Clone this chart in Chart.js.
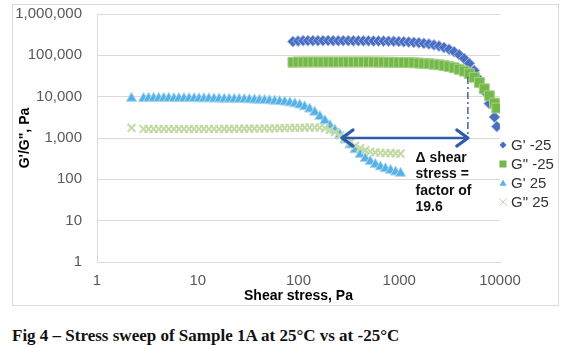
<!DOCTYPE html>
<html>
<head>
<meta charset="utf-8">
<script src="https://cdn.jsdelivr.net/npm/chart.js@4.4.1/dist/chart.umd.min.js"></script>
<style>
    body { margin: 0; background: #fff; width: 568px; height: 345px; position: relative; overflow: hidden; }
    #box { position: absolute; left: 12px; top: 4px; width: 545px; height: 300px; border: 1px solid #d9d9d9; }
    #caption { position: absolute; left: 12px; top: 326px; font: bold 17px "Liberation Serif", "Times New Roman", serif; color: #111; white-space: nowrap; }
</style>
</head>
<body>
<div id="box"><canvas id="chart" width="545" height="300"></canvas></div>
<div id="caption">Fig 4 – Stress sweep of Sample 1A at 25°C vs at -25°C</div>
<script>
// stress sweep at -25 C (shear stress, Pa)
var coldStress = [88, 99, 111, 124, 139, 156, 175, 197, 221, 248,
    278, 312, 350, 393, 441, 495, 555, 623, 699, 784,
    880, 987, 1108, 1243, 1395, 1565, 1756, 1970, 2211, 2480,
    2783, 3123, 3504, 3931, 4411, 4949, 5553, 6231, 6991, 7844,
    8801, 9300];
var gPrimeCold = [215000, 222000, 225000, 226000, 226000, 225000, 226000, 227000, 226000, 225000,
    226000, 226000, 225000, 225000, 224000, 224000, 223000, 222000, 221000, 219000,
    218000, 216000, 213000, 210000, 206000, 201000, 195000, 188000, 179000, 168000,
    155000, 140000, 122000, 103000, 84000, 64000, 43000, 26000, 13500, 6800,
    3200, 1900];
var gDoubleCold = [68000, 69000, 69000, 69000, 69000, 69000, 69000, 69000, 69000, 69000,
    69000, 69000, 69000, 69000, 69000, 69000, 69000, 68500, 68500, 68000,
    68000, 67500, 67000, 66500, 66000, 65000, 64000, 62500, 61000, 59000,
    56500, 53500, 50000, 46000, 41500, 36000, 29500, 22000, 15500, 10500,
    7000, 5300];

// stress sweep at 25 C
var warmStress = [2.2,
    2.9, 3.25, 3.65, 4.1, 4.6, 5.15, 5.8, 6.5, 7.3, 8.2, 9.2,
    10.3, 11.5, 12.9, 14.5, 16.3, 18.3, 20.5, 23, 25.8, 29,
    32.5, 36.5, 41, 46, 51.5, 58, 65, 73, 82, 92,
    103, 115, 129, 145, 163, 183, 205, 230, 258, 290,
    325, 365, 410, 460, 515, 580, 650, 730, 820, 920,
    1030];
var gPrimeWarm = [9100,
    9000, 9100, 9100, 9100, 9100, 9100, 9000, 9000, 9000, 9000, 9000,
    8900, 8900, 8900, 8800, 8800, 8700, 8700, 8600, 8600, 8500,
    8400, 8300, 8200, 8100, 8000, 7800, 7600, 7400, 7100, 6700,
    6300, 5700, 5000, 4200, 3300, 2600, 2000, 1550, 1200, 900,
    680, 520, 400, 320, 270, 230, 200, 180, 165, 150,
    140];
var gDoubleWarm = [1750,
    1650, 1650, 1650, 1650, 1650, 1650, 1650, 1650, 1650, 1650, 1650,
    1650, 1650, 1650, 1650, 1650, 1660, 1660, 1670, 1670, 1680,
    1680, 1690, 1700, 1700, 1710, 1720, 1730, 1740, 1750, 1760,
    1770, 1780, 1790, 1800, 1790, 1720, 1580, 1380, 1150, 930,
    770, 650, 570, 510, 470, 450, 440, 430, 430, 425,
    420];

var seriesNames = ["G' -25", 'G" -25', "G' 25", 'G" 25'];
var xTicks = [1, 10, 100, 1000, 10000];
var xTickLabels = ['1', '10', '100', '1000', '10000'];
var yTicks = [1, 10, 100, 1000, 10000, 100000, 1000000];
var yTickLabels = ['1', '10', '100', '1,000', '10,000', '100,000', '1,000,000'];

// annotation: arrow between the two yield points, plus the note
var arrowStress = [270, 4800];
var arrowLevel = 1000;
var dashTopLevel = 30000;
var noteLines = ['\u0394 shear', 'stress =', 'factor of', '19.6'];

function pairs(xs, ys) {
    return xs.map(function (x, i) { return { x: x, y: ys[i] }; });
}

var styles = [
    { point: 'rectRot', fill: '#4a6fc2', stroke: '#9fb5e4', r: 5.5, bw: 1 },
    { point: 'rect', fill: '#74b84a', stroke: '#a5d183', r: 7, bw: 1 },
    { point: 'triangle', fill: '#56b2e4', stroke: '#a8d7f2', r: 6, bw: 1 },
    { point: 'crossRot', fill: '#c6ddad', stroke: '#c2daa6', r: 5.5, bw: 2 }
];

function drawMarker(ctx, kind, x, y, s, fill, stroke) {
    ctx.save();
    ctx.fillStyle = fill;
    ctx.strokeStyle = stroke;
    ctx.beginPath();
    if (kind === 'rectRot') {
        ctx.moveTo(x, y - s); ctx.lineTo(x + s, y); ctx.lineTo(x, y + s); ctx.lineTo(x - s, y);
        ctx.closePath(); ctx.fill();
    } else if (kind === 'rect') {
        ctx.fillRect(x - s, y - s, 2 * s, 2 * s);
    } else if (kind === 'triangle') {
        ctx.moveTo(x, y - s); ctx.lineTo(x + s, y + s * 0.8); ctx.lineTo(x - s, y + s * 0.8);
        ctx.closePath(); ctx.fill();
    } else {
        ctx.lineWidth = 1;
        ctx.moveTo(x - s, y - s); ctx.lineTo(x + s, y + s);
        ctx.moveTo(x + s, y - s); ctx.lineTo(x - s, y + s);
        ctx.stroke();
    }
    ctx.restore();
}

var overlay = {
    id: 'overlay',
    afterDatasetsDraw: function (chart) {
        var ctx = chart.ctx,
            xs = chart.scales.x,
            ys = chart.scales.y;
        var xL = xs.getPixelForValue(arrowStress[0]),
            xR = xs.getPixelForValue(arrowStress[1]),
            yA = ys.getPixelForValue(arrowLevel),
            yTop = ys.getPixelForValue(dashTopLevel);

        ctx.save();
        // dashed drop line
        ctx.strokeStyle = '#46619a';
        ctx.lineWidth = 1.5;
        ctx.setLineDash([7, 3, 2, 3]);
        ctx.beginPath();
        ctx.moveTo(xR, yTop);
        ctx.lineTo(xR, yA);
        ctx.stroke();
        ctx.setLineDash([]);

        // double arrow
        ctx.strokeStyle = '#2f5caa';
        ctx.lineWidth = 2.5;
        ctx.beginPath();
        ctx.moveTo(xL + 2, yA);
        ctx.lineTo(xR - 2, yA);
        ctx.stroke();
        ctx.lineWidth = 3.4;
        ctx.lineCap = 'round';
        ctx.lineJoin = 'round';
        ctx.beginPath();
        ctx.moveTo(xL + 11, yA - 8); ctx.lineTo(xL, yA); ctx.lineTo(xL + 11, yA + 8);
        ctx.moveTo(xR - 11, yA - 8); ctx.lineTo(xR, yA); ctx.lineTo(xR - 11, yA + 8);
        ctx.stroke();

        // note text
        ctx.fillStyle = '#111';
        ctx.font = 'bold 14px "Liberation Sans", Arial, sans-serif';
        ctx.textAlign = 'left';
        ctx.textBaseline = 'middle';
        var noteX = xs.getPixelForValue(1450);
        noteLines.forEach(function (t, i) {
            ctx.fillText(t, noteX, yA + 20 + i * 16.5);
        });

        // legend
        var lx = chart.chartArea.right + 3,
            ly = 140;
        ctx.font = '15px "Liberation Sans", Arial, sans-serif';
        seriesNames.forEach(function (name, i) {
            var st = styles[i], y = ly + i * 19;
            drawMarker(ctx, st.point, lx, y, 3.5, st.fill, st.stroke);
            ctx.fillStyle = '#333';
            ctx.fillText(name, lx + 8, y + 1);
        });
        ctx.restore();
    }
};

var datasets = [
    pairs(coldStress, gPrimeCold),
    pairs(coldStress, gDoubleCold),
    pairs(warmStress, gPrimeWarm),
    pairs(warmStress, gDoubleWarm)
].map(function (d, i) {
    var st = styles[i];
    return {
        label: seriesNames[i],
        data: d,
        showLine: false,
        pointStyle: st.point,
        pointRadius: st.r,
        pointBackgroundColor: st.fill,
        pointBorderColor: st.stroke,
        pointBorderWidth: st.bw,
        order: 3 - i
    };
});

var tickFont = { family: '"Liberation Sans", Arial, sans-serif', size: 15 };
var titleFont = { family: '"Liberation Sans", Arial, sans-serif', size: 14, weight: 'bold' };

new Chart(document.getElementById('chart'), {
    type: 'scatter',
    data: { datasets: datasets },
    options: {
        responsive: false,
        animation: false,
        devicePixelRatio: 1,
        layout: { autoPadding: false, padding: { left: 0, right: 58, top: 9, bottom: 0 } },
        plugins: { legend: { display: false }, tooltip: { enabled: false } },
        scales: {
            x: {
                type: 'logarithmic',
                min: 1,
                max: 10000,
                afterBuildTicks: function (scale) {
                    scale.ticks = xTicks.map(function (v) { return { value: v }; });
                },
                afterFit: function (scale) {
                    scale.height = 43;
                    scale.paddingLeft = 0;
                    scale.paddingRight = 0;
                },
                ticks: {
                    font: tickFont,
                    color: '#595959',
                    padding: 10,
                    maxRotation: 0,
                    autoSkip: false,
                    callback: function (v, i) { return xTickLabels[i]; }
                },
                grid: { display: false, drawTicks: false },
                border: { display: true, color: '#d9d9d9' },
                title: { display: true, text: 'Shear stress, Pa', font: titleFont, color: '#000', padding: { top: 0, bottom: 0 } }
            },
            y: {
                type: 'logarithmic',
                min: 1,
                max: 1000000,
                afterBuildTicks: function (scale) {
                    scale.ticks = yTicks.map(function (v) { return { value: v }; });
                },
                afterFit: function (scale) {
                    scale.width = 84;
                    scale.paddingTop = 0;
                    scale.paddingBottom = 0;
                },
                ticks: {
                    font: tickFont,
                    color: '#595959',
                    padding: 15,
                    autoSkip: false,
                    callback: function (v, i) { return yTickLabels[i]; }
                },
                grid: { color: '#d9d9d9', drawTicks: false },
                border: { display: true, color: '#d9d9d9' },
                title: { display: true, text: 'G\'/G", Pa', font: titleFont, color: '#000', padding: { top: 4, bottom: 0 } }
            }
        }
    },
    plugins: [overlay]
});
</script>
</body>
</html>
